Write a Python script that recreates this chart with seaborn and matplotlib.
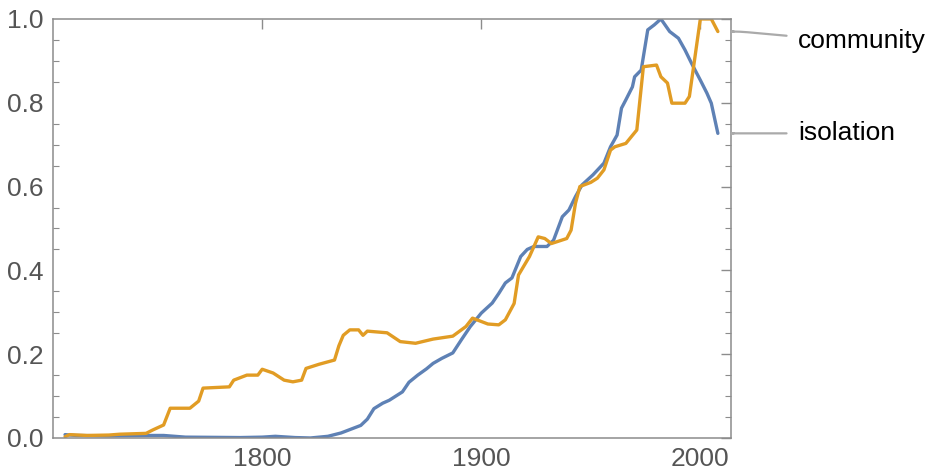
import numpy as np
import pandas as pd
from matplotlib import pyplot as plt
from matplotlib import transforms
from matplotlib.ticker import MultipleLocator
import seaborn as sns

# values
iso_years = [1710, 1715, 1730, 1750, 1755, 1765, 1790, 1800, 1806, 1815, 1822, 1830,
             1836, 1841, 1845, 1848, 1851, 1855, 1858, 1861, 1864, 1867, 1871, 1875,
             1878, 1882, 1887, 1891, 1895, 1900, 1905, 1908, 1911, 1914, 1918, 1921,
             1924, 1930, 1933, 1937, 1940, 1943, 1946, 1951, 1956, 1959, 1962, 1964,
             1966, 1969, 1970, 1973, 1976, 1979, 1982, 1986, 1990, 1993, 1996, 2000,
             2003, 2005, 2008]
iso_vals = [0.008, 0.006, 0.005, 0.006, 0.006, 0.002, 0.001, 0.002, 0.004, 0.001, 0.0, 0.004,
            0.012, 0.022, 0.030, 0.045, 0.070, 0.083, 0.090, 0.100, 0.110, 0.133, 0.150, 0.165,
            0.178, 0.190, 0.203, 0.235, 0.266, 0.298, 0.322, 0.345, 0.370, 0.382, 0.433, 0.450,
            0.457, 0.457, 0.472, 0.528, 0.544, 0.576, 0.604, 0.628, 0.656, 0.695, 0.723, 0.787,
            0.807, 0.838, 0.862, 0.878, 0.974, 0.986, 1.000, 0.970, 0.954, 0.926, 0.894, 0.854,
            0.823, 0.799, 0.727]

com_years = [1710, 1712, 1720, 1730, 1735, 1747, 1750, 1755, 1758, 1767, 1771, 1773,
             1785, 1787, 1793, 1798, 1800, 1805, 1810, 1814, 1818, 1820, 1826, 1833,
             1835, 1837, 1840, 1844, 1846, 1848, 1857, 1863, 1870, 1878, 1887, 1893,
             1896, 1900, 1903, 1908, 1911, 1915, 1917, 1922, 1926, 1929, 1932, 1939,
             1941, 1943, 1945, 1950, 1953, 1956, 1959, 1961, 1966, 1971, 1974, 1980,
             1982, 1985, 1987, 1993, 1995, 2000, 2005, 2008]
com_vals = [0.003, 0.008, 0.006, 0.007, 0.009, 0.011, 0.019, 0.031, 0.071, 0.071, 0.088, 0.119,
            0.122, 0.138, 0.150, 0.150, 0.164, 0.155, 0.138, 0.134, 0.138, 0.166, 0.176, 0.186,
            0.220, 0.245, 0.258, 0.258, 0.245, 0.255, 0.251, 0.230, 0.226, 0.236, 0.243, 0.266,
            0.286, 0.278, 0.272, 0.270, 0.282, 0.321, 0.389, 0.433, 0.480, 0.476, 0.464, 0.476,
            0.496, 0.560, 0.600, 0.610, 0.620, 0.640, 0.687, 0.695, 0.703, 0.735, 0.886, 0.890,
            0.862, 0.847, 0.799, 0.799, 0.815, 1.000, 1.000, 0.970]

labels = ['community', 'isolation']
colors = ['#e19c24', '#5e81b5']

sns.set_theme(style = 'white')
plt.rcParams['font.family'] = ['Liberation Sans', 'DejaVu Sans']

fig = plt.figure(figsize = (9.33, 4.74), dpi = 100)
ax = fig.add_axes([0.0568, 0.076, 0.7267, 0.884])

df_iso = pd.DataFrame({'year': iso_years, 'value': iso_vals})
df_com = pd.DataFrame({'year': com_years, 'value': com_vals})
sns.lineplot(data = df_iso, x = 'year', y = 'value', color = colors[1], lw = 2.4, ax = ax)
sns.lineplot(data = df_com, x = 'year', y = 'value', color = colors[0], lw = 2.4, ax = ax)

ax.set_xlim(1704.5, 2014)
ax.set_ylim(0, 1)
ax.set_xlabel('')
ax.set_ylabel('')
ax.set_xticks([1800, 1900, 2000])
ax.set_yticks([0.0, 0.2, 0.4, 0.6, 0.8, 1.0])
ax.set_yticklabels(['0.0', '0.2', '0.4', '0.6', '0.8', '1.0'])
ax.yaxis.set_minor_locator(MultipleLocator(0.05))
for s in ax.spines.values():
	s.set_color('#8c8c8c')
	s.set_linewidth(1.1)
ax.tick_params(which = 'both', direction = 'in', color = '#8c8c8c', top = True, right = True,
               labelsize = 19, labelcolor = '#555555')
ax.tick_params(which = 'major', length = 7, width = 1, pad = 6.5)
ax.tick_params(which = 'minor', length = 4, width = 0.8, left = True, right = True)

# end labels with leader lines
trans = transforms.blended_transform_factory(ax.transAxes, ax.transData)
end_vals = [com_vals[-1], iso_vals[-1]]
text_y = [0.948, iso_vals[-1]]
for lab, yv, ty in zip(labels, end_vals, text_y):
	ax.annotate(lab, xy = (1.004, yv), xycoords = trans, xytext = (1.099, ty), textcoords = trans,
	            ha = 'left', va = 'center', fontsize = 19, color = 'black', annotation_clip = False,
	            arrowprops = dict(arrowstyle = '-', color = '#aaaaaa', lw = 1.6, shrinkA = 6, shrinkB = 0,
	                              connectionstyle = 'arc,angleA=180,angleB=0,armA=20,armB=6,rad=8'))

plt.savefig('out.png', dpi = 100)
